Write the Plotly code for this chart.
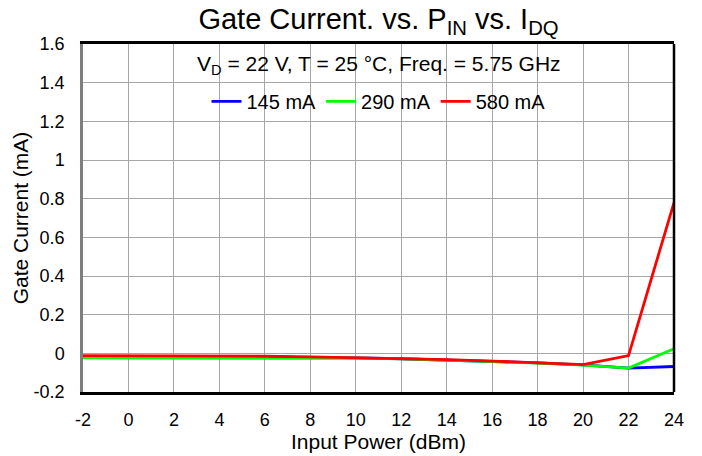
import plotly.graph_objects as go

pin = [-2, 0, 2, 4, 6, 8, 10, 12, 14, 16, 18, 20, 22, 24]
ig_145 = [-0.022, -0.022, -0.022, -0.022, -0.022, -0.022, -0.024, -0.028, -0.034, -0.041, -0.049, -0.060, -0.076, -0.068]
ig_290 = [-0.024, -0.024, -0.024, -0.024, -0.023, -0.023, -0.025, -0.029, -0.035, -0.042, -0.050, -0.061, -0.076, 0.024]
ig_580 = [-0.012, -0.012, -0.012, -0.013, -0.015, -0.018, -0.022, -0.027, -0.033, -0.040, -0.048, -0.058, -0.012, 0.780]
series = [("145 mA", ig_145, "#0000FF"), ("290 mA", ig_290, "#00FF00"), ("580 mA", ig_580, "#FF0000")]

x_ticks = list(range(-2, 25, 2))
x_ticktext = [str(v) for v in x_ticks]
y_ticks = [-0.2, 0, 0.2, 0.4, 0.6, 0.8, 1, 1.2, 1.4, 1.6]
y_ticktext = ["-0.2", "0", "0.2", "0.4", "0.6", "0.8", "1", "1.2", "1.4", "1.6"]

fig = go.Figure()
for name, vals, color in series:
    fig.add_trace(go.Scatter(x=pin, y=vals, mode="lines", name=name,
                             line=dict(color=color, width=2.8)))

font = "Liberation Sans, Arial, sans-serif"
fig.update_layout(
    width=702, height=456,
    margin=dict(l=83, r=28, t=44, b=64, autoexpand=False),
    paper_bgcolor="white", plot_bgcolor="white",
    font=dict(family=font, color="black", size=18),
    title=dict(text="Gate Current. vs. P<sub>IN</sub> vs. I<sub>DQ</sub>",
               x=0.5, xref="paper", xanchor="center", y=0.958, yanchor="middle",
               font=dict(size=29, family=font)),
    showlegend=True,
    legend=dict(orientation="h", x=0.5, xanchor="center", y=0.835, yanchor="middle",
                bgcolor="rgba(0,0,0,0)", font=dict(size=20), itemwidth=30,
                traceorder="normal"),
    xaxis=dict(range=[-2, 24], tickvals=x_ticks, ticktext=x_ticktext, showgrid=True,
               gridcolor="#A6A6A6", gridwidth=1.3, showline=True, linecolor="black",
               linewidth=2.5, mirror=True, ticks="", tickfont=dict(size=18),
               ticklabelstandoff=10, automargin=False,
               title=dict(text="Input Power (dBm)", font=dict(size=21), standoff=2),
               zeroline=False),
    yaxis=dict(range=[-0.2, 1.6], tickvals=y_ticks, ticktext=y_ticktext, showgrid=True,
               gridcolor="#A6A6A6", gridwidth=1.3, showline=True, linecolor="#7F7F7F",
               linewidth=2.5, mirror=False, ticks="", tickfont=dict(size=18),
               ticklabelstandoff=12, automargin=False,
               title=dict(text="Gate Current (mA)", font=dict(size=21), standoff=0),
               zeroline=False),
)

# right border of the frame
fig.add_shape(type="line", xref="paper", yref="paper", x0=1, x1=1, y0=0, y1=1,
              line=dict(color="black", width=2.5), layer="above")

# white boxes covering gridlines behind subtitle and legend
fig.add_shape(type="rect", xref="paper", yref="paper", x0=0.004, x1=0.996, y0=0.897, y1=0.986,
              fillcolor="white", line=dict(width=0), layer="between")
fig.add_shape(type="rect", xref="paper", yref="paper", x0=0.004, x1=0.996, y0=0.785, y1=0.877,
              fillcolor="white", line=dict(width=0), layer="between")

fig.add_annotation(text="V<sub>D</sub> = 22 V, T = 25 °C, Freq. = 5.75 GHz",
                   xref="paper", yref="paper", x=0.5, y=0.94, xanchor="center", yanchor="middle",
                   showarrow=False, font=dict(size=21, family=font))

fig.write_html("out.html", config={"displayModeBar": False},
               post_script="document.body.style.margin='0';document.body.style.padding='0';")
